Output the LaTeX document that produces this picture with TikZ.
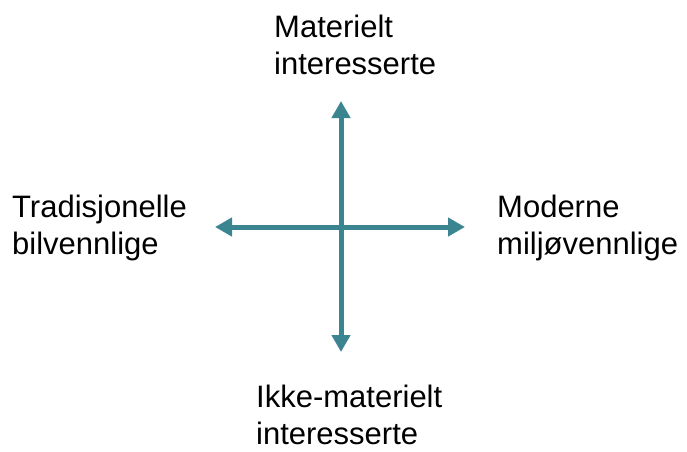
\documentclass[tikz,border=0pt]{standalone}
\usepackage{fontspec}
\setmainfont{Liberation Sans}
\usetikzlibrary{arrows.meta}
\definecolor{axisteal}{HTML}{3A8590}
\begin{document}
\begin{tikzpicture}[x=1pt,y=1pt,
  axisline/.style={draw=axisteal, line width=5pt,
    {Triangle[length=17pt,width=18pt]}-{Triangle[length=17pt,width=18pt]}},
  label/.style={align=left, inner sep=0pt, anchor=base west,
    font=\fontsize{31}{37}\selectfont}]
  \useasboundingbox (0,0) rectangle (687,-451);
  % axis end points
  \coordinate (top) at (341,-101);
  \coordinate (bottom) at (341,-352);
  \coordinate (left) at (215,-227);
  \coordinate (right) at (465,-227);
  \draw[axisline] (top) -- (bottom);
  \draw[axisline] (left) -- (right);
  % pole labels (anchored at the baseline of the last line)
  \node[label] (mat) at (274,-74) {Materielt\\interesserte};
  \node[label] (ikke) at (256,-444) {Ikke-materielt\\interesserte};
  \node[label] (trad) at (12,-254) {Tradisjonelle\\bilvennlige};
  \node[label] (mod) at (497,-254) {Moderne\\miljøvennlige};
\end{tikzpicture}
\end{document}
